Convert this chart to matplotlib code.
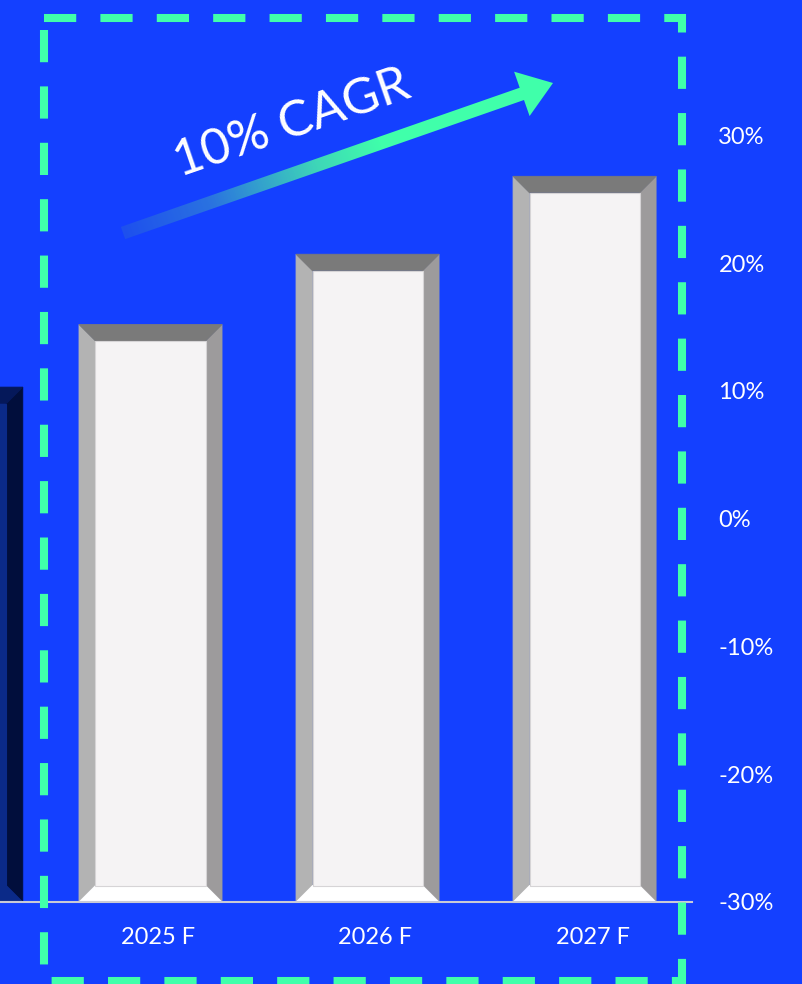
import matplotlib.pyplot as plt
import numpy as np
from matplotlib.patches import Polygon, Rectangle
from matplotlib.colors import LinearSegmentedColormap
from matplotlib.transforms import ScaledTranslation

plt.rcParams['font.family'] = ['Lato', 'DejaVu Sans']

BLUE = '#1440FF'
GREEN = '#40FFAA'

# forecast bars
years = ['2025 F', '2026 F', '2027 F']
growth = [15.2, 20.7, 26.8]
# last actual bar, mostly off the left edge
hist_pos = -0.918
hist_growth = 10.3

yticks = [-30, -20, -10, 0, 10, 20, 30]
cagr_label = '10% CAGR'

W, H = 803, 984
fig = plt.figure(figsize=(W / 100, H / 100), dpi=100)
fig.patch.set_facecolor(BLUE)

ax = fig.add_axes([0, 82 / H, 692 / W, 902 / H])
ax.set_facecolor(BLUE)
ax.set_xlim(-0.6935, 2.495)
ax.set_ylim(-30, 40.6)
base = -30
width = 0.659

# pixel size of one data unit, used for the bevel thickness
px_x = 692 / (ax.get_xlim()[1] - ax.get_xlim()[0])
px_y = 902 / (ax.get_ylim()[1] - ax.get_ylim()[0])
bev = 16.5
bx, by = bev / px_x, bev / px_y


def bevel_bar(x, val, face, top, left, right, bottom, outline):
    x0, x1 = x - width / 2, x + width / 2
    y0, y1 = base, val
    ix0, ix1, iy0, iy1 = x0 + bx, x1 - bx, y0 + by, y1 - by
    pieces = [
        ([(x0, y0), (x0, y1), (ix0, iy1), (ix0, iy0)], left),
        ([(x1, y0), (x1, y1), (ix1, iy1), (ix1, iy0)], right),
        ([(x0, y1), (x1, y1), (ix1, iy1), (ix0, iy1)], top),
        ([(x0, y0), (x1, y0), (ix1, iy0), (ix0, iy0)], bottom),
    ]
    for pts, c in pieces:
        ax.add_patch(Polygon(pts, closed=True, facecolor=c, edgecolor=c,
                             linewidth=0.6))
    ax.add_patch(Rectangle((ix0, iy0), ix1 - ix0, iy1 - iy0, facecolor=face,
                           edgecolor=outline, linewidth=0.8))


bevel_bar(hist_pos, hist_growth, '#0B2A88', '#05185A', '#0C2C90', '#010E3C',
          '#0B2A88', '#0B2A88')
for i, v in enumerate(growth):
    bevel_bar(i, v, '#F5F3F4', '#7A7A7A', '#B3B3B3', '#9D9B9C', '#FFFFFF', '#D6D4D6')

for s in ['top', 'left', 'right']:
    ax.spines[s].set_visible(False)
ax.spines['bottom'].set_color('#C9CBD6')
ax.spines['bottom'].set_linewidth(1.5)

ax.set_xticks(range(len(years)))
ax.set_xticklabels(years, color='white', fontsize=17)
ax.tick_params(axis='x', length=0, pad=18)
shift = ScaledTranslation(8 / 100, 0, fig.dpi_scale_trans)
for lbl in ax.get_xticklabels():
    lbl.set_transform(lbl.get_transform() + shift)
ax.yaxis.tick_right()
ax.set_yticks(yticks)
ax.set_yticklabels([f'{t}%' for t in yticks], color='white', fontsize=17)
ax.tick_params(axis='y', length=0, pad=19)

# overlay in pixel coordinates for the frame and the trend arrow
ov = fig.add_axes([0, 0, 1, 1])
ov.set_xlim(0, W)
ov.set_ylim(H, 0)
ov.axis('off')
ov.patch.set_alpha(0)

ov.add_patch(Rectangle((44, 18), 638, 963, fill=False, edgecolor=GREEN,
                       linewidth=5.8, linestyle=(0, (4.0, 3.0)),
                       joinstyle='miter', capstyle='butt'))

tail = np.array([123.0, 233.0])
tip = np.array([553.0, 83.0])
d = tip - tail
L = np.hypot(*d)
u = d / L
n = np.array([u[1], -u[0]])
shaft_w, head_w, head_l = 13, 47, 33
hb = tip - u * head_l
pts = [tail + n * shaft_w / 2, hb + n * shaft_w / 2, hb + n * head_w / 2, tip,
       hb - n * head_w / 2, hb - n * shaft_w / 2, tail - n * shaft_w / 2]
arrow = Polygon(pts, closed=True, facecolor='none', edgecolor='none')
ov.add_patch(arrow)

xs = np.linspace(100, 580, 480)
ys = np.linspace(50, 260, 210)
gx, gy = np.meshgrid(xs, ys)
t = ((gx - tail[0]) * u[0] + (gy - tail[1]) * u[1]) / L
grad = LinearSegmentedColormap.from_list(
    'trend', [(0, '#1E50EE'), (0.2, '#2A72E0'), (0.45, '#3ED6B8'), (0.6, GREEN), (1, GREEN)])
img = ov.imshow(np.clip(t, 0, 1), cmap=grad, vmin=0, vmax=1,
                extent=(xs[0], xs[-1], ys[-1], ys[0]), origin='upper',
                interpolation='bilinear', aspect='auto')
img.set_clip_path(arrow)
ov.set_xlim(0, W)
ov.set_ylim(H, 0)

ov.text(292, 124, cagr_label, color='white', fontsize=36, rotation=19,
        rotation_mode='anchor', ha='center', va='center')

fig.savefig('out.png', dpi=100, facecolor=BLUE)
